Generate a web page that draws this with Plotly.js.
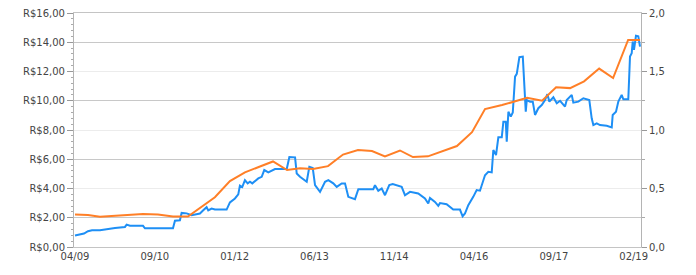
<!DOCTYPE html>
<html>
<head>
<meta charset="utf-8">
<script src="https://cdn.plot.ly/plotly-3.0.1.min.js"></script>
<style>
html,body{margin:0;padding:0;background:#fff;}
#chart{width:696px;height:275px;}
</style>
</head>
<body>
<div id="chart"></div>
<script>
// Price series (R$, left axis) – dates as decimal years
const priceYears = [2009.274,2009.362,2009.432,2009.502,2009.573,2009.713,2009.784,2009.889,2009.977,2010.152,2010.182,2010.240,2010.469,2010.504,2010.996,2011.031,2011.118,2011.148,2011.236,2011.324,2011.412,2011.470,2011.528,2011.587,2011.616,2011.675,2011.733,2011.939,2011.997,2012.085,2012.143,2012.172,2012.213,2012.260,2012.308,2012.348,2012.389,2012.436,2012.494,2012.554,2012.599,2012.670,2012.735,2012.787,2012.993,2013.039,2013.139,2013.168,2013.226,2013.344,2013.390,2013.450,2013.490,2013.578,2013.666,2013.724,2013.811,2013.871,2013.959,2014.017,2014.075,2014.192,2014.251,2014.514,2014.544,2014.602,2014.662,2014.720,2014.795,2014.855,2015.013,2015.071,2015.159,2015.304,2015.422,2015.480,2015.510,2015.598,2015.656,2015.686,2015.803,2015.919,2016.037,2016.084,2016.125,2016.183,2016.270,2016.330,2016.388,2016.476,2016.534,2016.594,2016.622,2016.669,2016.710,2016.770,2016.798,2016.840,2016.857,2016.886,2016.928,2016.963,2017.003,2017.033,2017.079,2017.139,2017.161,2017.191,2017.209,2017.267,2017.314,2017.354,2017.412,2017.472,2017.530,2017.571,2017.606,2017.676,2017.736,2017.794,2017.881,2017.911,2017.999,2018.027,2018.115,2018.203,2018.308,2018.350,2018.379,2018.438,2018.496,2018.614,2018.702,2018.719,2018.777,2018.818,2018.877,2018.906,2018.993,2019.023,2019.053,2019.071,2019.093,2019.128,2019.169,2019.199];
const priceValues = [0.78,0.85,0.92,1.08,1.14,1.15,1.20,1.23,1.30,1.37,1.53,1.45,1.45,1.28,1.28,1.80,1.83,2.33,2.30,2.17,2.22,2.29,2.51,2.72,2.50,2.63,2.56,2.56,3.05,3.32,3.60,4.20,4.10,4.57,4.35,4.46,4.35,4.52,4.69,4.80,5.26,5.10,5.25,5.33,5.33,6.15,6.13,5.03,4.80,4.46,5.48,5.40,4.23,3.77,4.46,4.57,4.35,4.11,4.35,4.35,3.43,3.27,3.95,3.95,4.23,3.84,4.00,3.54,4.23,4.30,4.11,3.54,3.77,3.66,3.32,2.97,3.36,3.08,2.81,3.00,2.93,2.56,2.56,2.10,2.29,2.86,3.43,3.89,3.85,4.91,5.14,5.10,6.63,6.29,7.50,7.50,8.57,8.57,7.20,9.25,8.91,9.20,11.65,11.84,12.98,13.02,11.43,9.25,10.05,9.94,9.94,9.03,9.49,9.71,10.05,10.45,9.94,10.24,9.83,10.00,9.60,10.05,10.40,9.87,9.94,10.17,10.05,8.80,8.34,8.46,8.34,8.29,8.18,9.03,9.25,9.94,10.40,10.10,10.10,13.02,13.25,14.05,13.48,14.44,14.40,13.70];

// Second series (right axis) – quarterly points
const ratioYears = [2009.274,2009.502,2009.713,2009.977,2010.240,2010.469,2010.732,2010.996,2011.259,2011.505,2011.733,2011.997,2012.260,2012.524,2012.752,2012.998,2013.226,2013.455,2013.718,2013.982,2014.245,2014.491,2014.719,2014.983,2015.211,2015.475,2015.721,2015.984,2016.248,2016.476,2016.775,2017.214,2017.478,2017.724,2017.970,2018.216,2018.481,2018.726,2018.990,2019.200];
const ratioValues = [0.278,0.273,0.258,0.265,0.275,0.283,0.278,0.260,0.260,0.344,0.425,0.563,0.638,0.688,0.731,0.658,0.673,0.666,0.691,0.790,0.828,0.820,0.775,0.825,0.769,0.775,0.820,0.863,0.981,1.179,1.213,1.275,1.250,1.366,1.358,1.416,1.525,1.444,1.770,1.770];

// X tick positions and labels
const tickDates = ['2009-04-11','2010-09-05','2012-01-30','2013-06-25','2014-11-19','2016-04-14','2017-09-08','2019-02-02'];
const tickLabels = ['04/09','09/10','01/12','06/13','11/14','04/16','09/17','02/19'];
const xRangeYears = [2009.2565, 2019.2164];

function yearToDate(y){
  const yr = Math.floor(y);
  const s = Date.UTC(yr,0,1), e = Date.UTC(yr+1,0,1);
  const d = new Date(s + (y-yr)*(e-s));
  return d.toISOString().slice(0,16).replace('T',' ');
}

const font = {family:'DejaVu Sans, Verdana, sans-serif', size:10, color:'#444'};

const traces = [
  {x: priceYears.map(yearToDate), y: priceValues, type:'scatter', mode:'lines',
   line:{color:'#1e8ff5', width:2}, yaxis:'y', hoverinfo:'skip'},
  {x: ratioYears.map(yearToDate), y: ratioValues, type:'scatter', mode:'lines',
   line:{color:'#ff7f27', width:2}, yaxis:'y2', hoverinfo:'skip'}
];

const layout = {
  width:696, height:275,
  margin:{l:74, r:55, t:13, b:28},
  paper_bgcolor:'#fff', plot_bgcolor:'#fff',
  showlegend:false,
  separators:',.',
  font: font,
  xaxis:{type:'date', range: xRangeYears.map(yearToDate),
    tickvals: tickDates, ticktext: tickLabels, ticks:'', showgrid:false,
    showline:true, linecolor:'#c4c4c4', linewidth:1, mirror:true, zeroline:false,
    tickfont:font, fixedrange:true},
  yaxis:{range:[0,16], dtick:2, tick0:0, tickprefix:'R$', tickformat:'.2f',
    showgrid:true, gridcolor:'#c8c8c8', gridwidth:1,
    showline:true, linecolor:'#b4b4b4', linewidth:1, zeroline:false,
    ticks:'outside', ticklen:6, tickcolor:'#999',
    minor:{dtick:0.4, ticks:'outside', ticklen:2, tickcolor:'#aaa', showgrid:false},
    tickfont:font, fixedrange:true},
  yaxis2:{range:[0,2], dtick:0.5, tick0:0, tickformat:'.1f', overlaying:'y', side:'right',
    showgrid:true, gridcolor:'#ececec', gridwidth:1,
    showline:true, linecolor:'#b4b4b4', linewidth:1, zeroline:false,
    ticks:'outside', ticklen:5, tickcolor:'#999',
    minor:{dtick:0.25, ticks:'outside', ticklen:3, tickcolor:'#aaa', showgrid:false},
    tickfont:font, fixedrange:true}
};

Plotly.newPlot('chart', traces, layout, {staticPlot:true, displayModeBar:false});
</script>
</body>
</html>
